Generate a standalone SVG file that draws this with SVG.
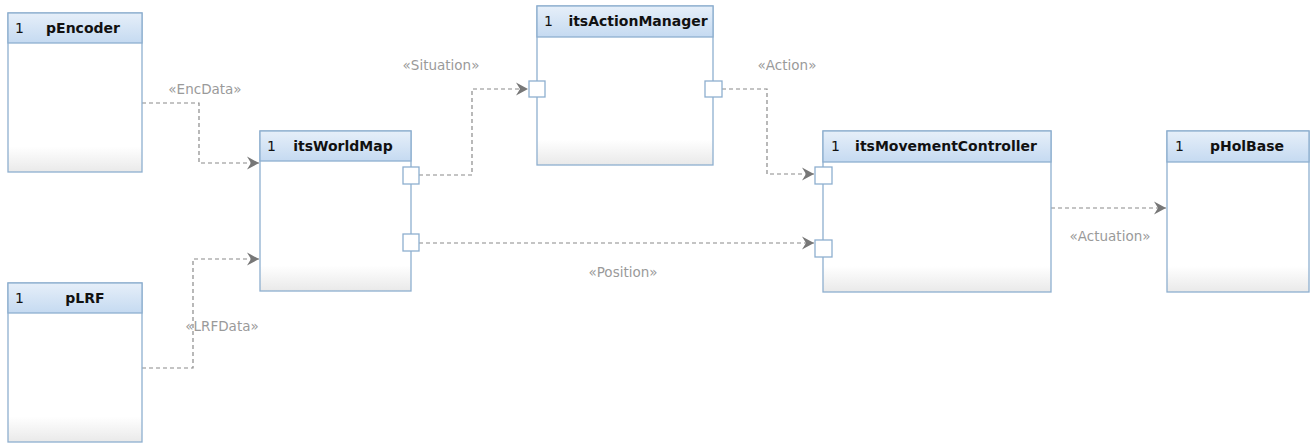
<svg xmlns="http://www.w3.org/2000/svg" width="1310" height="443" viewBox="0 0 1310 443">
  <style>
    .box { fill: url(#body); stroke: #8eafcf; stroke-width: 1.3; }
    .hdr { fill: url(#head); stroke: #8eafcf; stroke-width: 1.3; }
    .port { fill: #ffffff; stroke: #8eafcf; stroke-width: 1.3; }
    .num { font-family: "DejaVu Sans", Verdana, sans-serif; font-size: 14px; fill: #111; }
    .name { font-family: "DejaVu Sans", Verdana, sans-serif; font-size: 14px; font-weight: bold; fill: #111; text-anchor: middle; }
    .lbl { font-family: "DejaVu Sans", Verdana, sans-serif; font-size: 13.5px; fill: #9a9a9a; text-anchor: middle; }
    .dep { fill: none; stroke: #8a8a8a; stroke-width: 1.2; stroke-dasharray: 4 3; marker-end: url(#open); }
  </style>
  <defs>
    <linearGradient id="head" x1="0" y1="0" x2="0" y2="1">
      <stop offset="0" stop-color="#e6eff9"/>
      <stop offset="1" stop-color="#c5daf1"/>
    </linearGradient>
    <linearGradient id="body" x1="0" y1="0" x2="0" y2="1">
      <stop offset="0" stop-color="#ffffff"/>
      <stop offset="0.84" stop-color="#ffffff"/>
      <stop offset="1" stop-color="#e9e9e9"/>
    </linearGradient>
    <!-- open chevron arrowhead for dependencies -->
    <marker id="open" markerWidth="16" markerHeight="16" refX="13" refY="8" orient="auto" markerUnits="userSpaceOnUse">
      <path d="M1,1.5 L13,8 L1,14.5 L5,8 Z" fill="#777777"/>
    </marker>
  </defs>

  <!-- connectors -->
  <g id="connectors">
    <polyline class="dep" points="142,103 199,103 199,163 259,163"/>
    <polyline class="dep" points="142,368 193,368 193,259 259,259"/>
    <polyline class="dep" points="419,175 472,175 472,89 528,89"/>
    <polyline class="dep" points="722,89 767,89 767,174 814,174"/>
    <polyline class="dep" points="419,243 814,243"/>
    <polyline class="dep" points="1051,208 1166,208"/>
    <text class="lbl" x="205" y="94">«EncData»</text>
    <text class="lbl" x="222" y="331">«LRFData»</text>
    <text class="lbl" x="441" y="70">«Situation»</text>
    <text class="lbl" x="787" y="70">«Action»</text>
    <text class="lbl" x="623" y="277">«Position»</text>
    <text class="lbl" x="1110" y="241">«Actuation»</text>
  </g>

  <!-- parts -->
  <g id="pEncoder">
    <rect class="box" x="8" y="13" width="134" height="159"/>
    <rect class="hdr" x="8" y="13" width="134" height="30"/>
    <text class="num" x="15" y="33">1</text>
    <text class="name" x="83" y="33">pEncoder</text>
  </g>

  <g id="pLRF">
    <rect class="box" x="8" y="283" width="134" height="159"/>
    <rect class="hdr" x="8" y="283" width="134" height="30"/>
    <text class="num" x="15" y="303">1</text>
    <text class="name" x="85" y="303">pLRF</text>
  </g>

  <g id="itsWorldMap">
    <rect class="box" x="260" y="131" width="151" height="160"/>
    <rect class="hdr" x="260" y="131" width="151" height="30"/>
    <text class="num" x="267" y="151">1</text>
    <text class="name" x="343" y="151">itsWorldMap</text>
    <rect class="port" x="403" y="167" width="16" height="17"/>
    <rect class="port" x="403" y="234" width="16" height="17"/>
  </g>

  <g id="itsActionManager">
    <rect class="box" x="537" y="6" width="176" height="159"/>
    <rect class="hdr" x="537" y="6" width="176" height="31"/>
    <text class="num" x="544" y="26">1</text>
    <text class="name" x="638" y="26">itsActionManager</text>
    <rect class="port" x="529" y="81" width="16" height="16"/>
    <rect class="port" x="705" y="81" width="17" height="16"/>
  </g>

  <g id="itsMovementController">
    <rect class="box" x="823" y="131" width="228" height="161"/>
    <rect class="hdr" x="823" y="131" width="228" height="31"/>
    <text class="num" x="831" y="151">1</text>
    <text class="name" x="946" y="151">itsMovementController</text>
    <rect class="port" x="815" y="167" width="17" height="17"/>
    <rect class="port" x="815" y="240" width="17" height="17"/>
  </g>

  <g id="pHolBase">
    <rect class="box" x="1167" y="131" width="142" height="161"/>
    <rect class="hdr" x="1167" y="131" width="142" height="31"/>
    <text class="num" x="1175" y="151">1</text>
    <text class="name" x="1247" y="151">pHolBase</text>
  </g>
</svg>
